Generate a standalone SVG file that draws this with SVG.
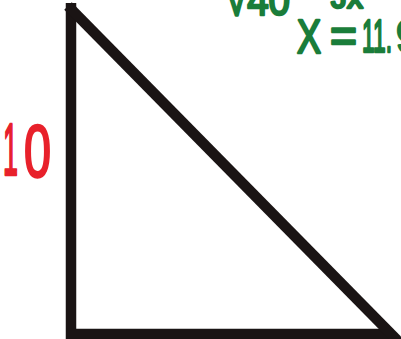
<svg xmlns="http://www.w3.org/2000/svg" width="401" height="339" viewBox="0 0 401 339">
<style>
.edge{stroke:#1a1414;stroke-width:10.5;stroke-linecap:butt;fill:none}
.red{fill:#e8212b;stroke:#e8212b;stroke-width:2.5;stroke-linejoin:round;font-family:"Liberation Sans",Arial,sans-serif}
.green{fill:#1a7d3a;stroke:#1a7d3a;stroke-width:2.5;stroke-linejoin:round;font-family:"Liberation Sans",Arial,sans-serif}
</style>
<rect width="401" height="339" fill="#ffffff"/>
<g id="triangle">
<line class="edge" x1="71" y1="3" x2="71" y2="339"/>
<line class="edge" x1="66" y1="334" x2="392" y2="334"/>
<line class="edge" x1="68" y1="6" x2="399" y2="342"/>
</g>
<g id="label-10">
<text class="red" font-size="74"><tspan x="3" y="175" textLength="15" lengthAdjust="spacingAndGlyphs">1</tspan><tspan x="24" y="177" textLength="27" lengthAdjust="spacingAndGlyphs">0</tspan></text>
</g>
<g id="work">
<text class="green" x="226" y="15" font-size="44" textLength="64" lengthAdjust="spacingAndGlyphs">√40</text>
<text class="green" x="331" y="8" font-size="32" textLength="32" lengthAdjust="spacingAndGlyphs">Jx</text>
<text class="green" x="297" y="53" font-size="48" textLength="24" lengthAdjust="spacingAndGlyphs">X</text>
<text class="green" x="330" y="52" font-size="48" textLength="27" lengthAdjust="spacingAndGlyphs">=</text>
<text class="green" x="362" y="52" font-size="46" textLength="30" lengthAdjust="spacingAndGlyphs">11.</text>
<text class="green" x="396" y="52" font-size="46" textLength="24" lengthAdjust="spacingAndGlyphs">9</text>
</g>
</svg>
